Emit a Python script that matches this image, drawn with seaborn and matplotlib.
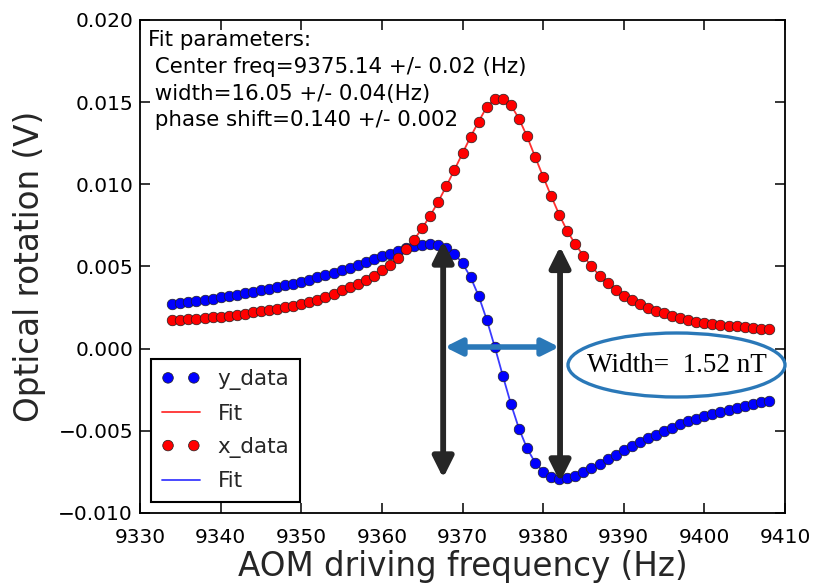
import matplotlib
matplotlib.use("Agg")
import matplotlib.pyplot as plt
import numpy as np
import pandas as pd
import seaborn as sns
from matplotlib.patches import Ellipse, FancyArrowPatch
from matplotlib.ticker import FuncFormatter

# ---------------- data ----------------
freq = list(range(9334, 9409))

y_data = [0.00273, 0.00279, 0.00285, 0.00292, 0.00298, 0.00305, 0.00312, 0.00320,
          0.00328, 0.00336, 0.00345, 0.00354, 0.00364, 0.00374, 0.00385, 0.00396,
          0.00408, 0.00420, 0.00433, 0.00447, 0.00461, 0.00476, 0.00492, 0.00509,
          0.00526, 0.00543, 0.00561, 0.00578, 0.00595, 0.00610, 0.00623, 0.00633,
          0.00636, 0.00630, 0.00612, 0.00577, 0.00519, 0.00435, 0.00321, 0.00177,
          0.00011, -0.00165, -0.00336, -0.00486, -0.00606, -0.00693, -0.00748, -0.00779,
          -0.00794, -0.00790, -0.00773, -0.00751, -0.00726, -0.00699, -0.00672, -0.00645,
          -0.00618, -0.00593, -0.00569, -0.00546, -0.00524, -0.00504, -0.00482, -0.00461,
          -0.00442, -0.00426, -0.00411, -0.00397, -0.00384, -0.00371, -0.00359, -0.00348,
          -0.00337, -0.00327, -0.00318]

x_data = [0.00172, 0.00175, 0.00178, 0.00182, 0.00186, 0.00190, 0.00195, 0.00200,
          0.00206, 0.00212, 0.00220, 0.00228, 0.00236, 0.00244, 0.00252, 0.00261,
          0.00270, 0.00283, 0.00298, 0.00314, 0.00333, 0.00354, 0.00375, 0.00396,
          0.00418, 0.00445, 0.00476, 0.00510, 0.00553, 0.00604, 0.00664, 0.00733,
          0.00810, 0.00895, 0.00990, 0.01088, 0.01189, 0.01289, 0.01382, 0.01470,
          0.01520, 0.01522, 0.01482, 0.01400, 0.01292, 0.01168, 0.01047, 0.00928,
          0.00815, 0.00715, 0.00635, 0.00565, 0.00500, 0.00445, 0.00398, 0.00358,
          0.00323, 0.00294, 0.00269, 0.00249, 0.00232, 0.00215, 0.00200, 0.00187,
          0.00176, 0.00165, 0.00156, 0.00149, 0.00143, 0.00139, 0.00135, 0.00130,
          0.00126, 0.00122, 0.00120]

x_ticks = [9330, 9340, 9350, 9360, 9370, 9380, 9390, 9400, 9410]
y_ticks = [-0.010, -0.005, 0.000, 0.005, 0.010, 0.015, 0.020]

fit_lines = ["Fit parameters:",
             " Center freq=9375.14 +/- 0.02 (Hz)",
             " width=16.05 +/- 0.04(Hz)",
             " phase shift=0.140 +/- 0.002"]
width_label = "Width=  1.52 nT"

# ---------------- style ----------------
sns.set_style("ticks")
plt.rcParams["font.family"] = ["DejaVu Sans"]
plt.rcParams["axes.linewidth"] = 1.3

df = pd.DataFrame({"freq": freq, "x": x_data, "y": y_data})

fig = plt.figure(figsize=(8.17, 5.86), dpi=100)
ax = fig.add_axes([0.1714, 0.1246, 0.7894, 0.8413])

sns.scatterplot(data=df, x="freq", y="y", color="#0000ff", edgecolor="#202020",
                linewidth=0.5, s=58, label="y_data", ax=ax, zorder=3)
sns.lineplot(data=df, x="freq", y="x", color="#ff3030", lw=1.3,
             label="Fit", ax=ax, zorder=2)
sns.scatterplot(data=df, x="freq", y="x", color="#ff0000", edgecolor="#202020",
                linewidth=0.5, s=58, label="x_data", ax=ax, zorder=3.5)
sns.lineplot(data=df, x="freq", y="y", color="#3a3aff", lw=1.3,
             label="Fit", ax=ax, zorder=2)

ax.set_xlim(9330, 9410)
ax.set_ylim(-0.010, 0.020)
ax.set_xticks(x_ticks)
ax.set_yticks(y_ticks)
ax.yaxis.set_major_formatter(FuncFormatter(lambda v, _: f"{v:.3f}".replace("-", "\u2212")))
ax.tick_params(direction="in", top=True, right=True, length=7, width=1.1,
               labelsize=14.5, colors="black")
ax.tick_params(axis="x", pad=11)
ax.tick_params(axis="y", pad=5)
for sp in ax.spines.values():
    sp.set_color("black")

ax.set_xlabel("AOM driving frequency (Hz)", fontsize=23.5, labelpad=2)
ax.set_ylabel("Optical rotation (V)", fontsize=23.5, labelpad=9)

ax.text(0.012, 0.979, "\n".join(fit_lines), transform=ax.transAxes,
        ha="left", va="top", fontsize=15.4, linespacing=1.42, color="black")

leg = ax.legend(loc="lower left", scatterpoints=2, scatteryoffsets=[0.5],
                fontsize=15.5, frameon=True, fancybox=False, framealpha=1,
                edgecolor="black", handlelength=1.8, handletextpad=0.8,
                labelspacing=0.62, borderpad=0.5)
leg.get_frame().set_linewidth(1.5)

# annotation arrows
arrow_black = "#262626"
for (x0, y0, y1) in [(9367.6, 0.00655, -0.00787), (9382.1, 0.00622, -0.00811)]:
    ax.add_patch(FancyArrowPatch((x0, y0), (x0, y1), arrowstyle="<|-|>",
                                 mutation_scale=31, lw=4.2, color=arrow_black,
                                 shrinkA=0, shrinkB=0, zorder=6))
ax.add_patch(FancyArrowPatch((9367.8, 0.0001), (9382.0, 0.0001), arrowstyle="<|-|>",
                             mutation_scale=25, lw=4, color="#2a78b8",
                             shrinkA=0, shrinkB=0, zorder=6))

ell = Ellipse((676.5 / 817, 1 - 365 / 586), 217 / 817, 64 / 586,
              transform=fig.transFigure, fill=False, edgecolor="#2a78b8", lw=2.4)
fig.add_artist(ell)
fig.text(676.5 / 817, 1 - 366 / 586, width_label, ha="center", va="center",
         fontsize=19.5, family=["Liberation Serif", "DejaVu Serif"], color="black")

fig.savefig("out.png", dpi=100, facecolor="white")
